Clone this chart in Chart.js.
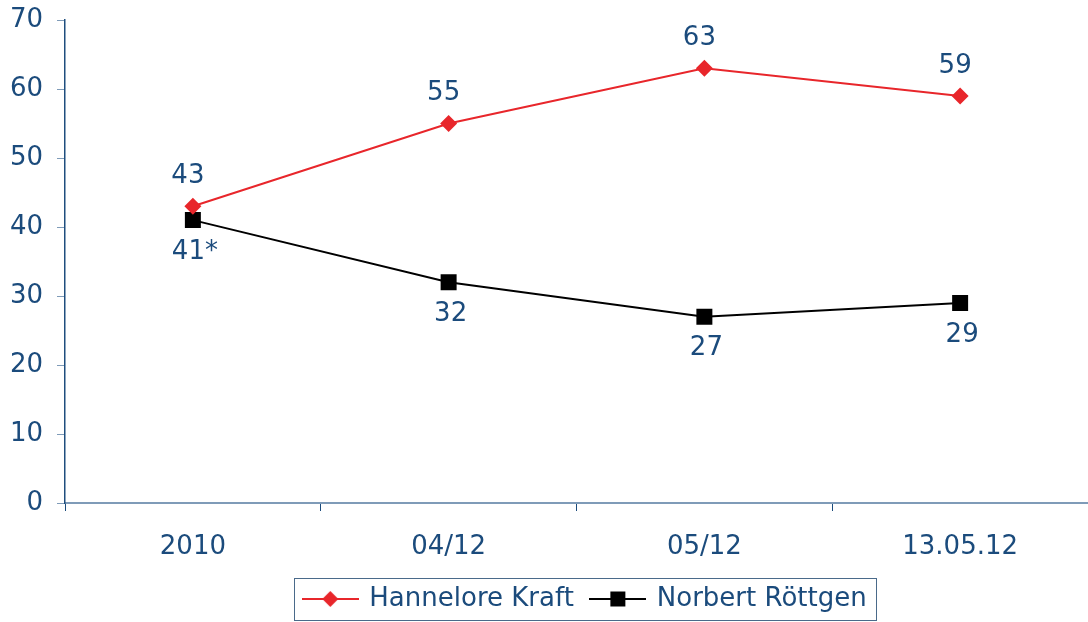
<!DOCTYPE html>
<html>
<head>
<meta charset="utf-8">
<script src="https://cdn.jsdelivr.net/npm/chart.js@4.4.4/dist/chart.umd.min.js"></script>
<style>
  html, body { margin: 0; padding: 0; background: #fff; }
  #wrap { width: 1088px; height: 622px; }
</style>
</head>
<body>
<div id="wrap"><canvas id="chart" width="1088" height="622"></canvas></div>
<script>
const categories = ['2010', '04/12', '05/12', '13.05.12'];
const kraft = [43, 55, 63, 59];
const roettgen = [41, 32, 27, 29];
const kraftLabels = ['43', '55', '63', '59'];
const roettgenLabels = ['41*', '32', '27', '29'];

const TEXT = '#1b4b7c';
const RED = '#e8262b';
const FONT = "'DejaVu Sans', Verdana, sans-serif";

function legendIcon(color, style) {
  const c = document.createElement('canvas');
  c.width = 57; c.height = 20;
  const ctx = c.getContext('2d');
  ctx.strokeStyle = color;
  ctx.lineWidth = 2;
  ctx.beginPath();
  ctx.moveTo(0, 10); ctx.lineTo(57, 10);
  ctx.stroke();
  ctx.fillStyle = color;
  ctx.beginPath();
  if (style === 'diamond') {
    ctx.moveTo(28.5, 2); ctx.lineTo(36.5, 10); ctx.lineTo(28.5, 18); ctx.lineTo(20.5, 10);
  } else {
    ctx.rect(21, 2.5, 15, 15);
  }
  ctx.fill();
  return c;
}

// value labels above / below the points
const valueLabels = {
  id: 'valueLabels',
  afterDatasetsDraw(chart) {
    const ctx = chart.ctx;
    ctx.save();
    ctx.font = '26px ' + FONT;
    ctx.fillStyle = TEXT;
    ctx.textAlign = 'center';
    ctx.textBaseline = 'middle';
    chart.getDatasetMeta(0).data.forEach((p, i) => {
      ctx.fillText(kraftLabels[i], p.x - 5, p.y - 30);
    });
    chart.getDatasetMeta(1).data.forEach((p, i) => {
      ctx.fillText(roettgenLabels[i], p.x + 2, p.y + 32);
    });
    ctx.restore();
  }
};

// nudge the legend a little to the right, like the original
const SHIFT = 9;
const legendShift = {
  id: 'legendShift',
  afterLayout(chart) {
    const lg = chart.legend;
    if (!lg) return;
    lg.left += SHIFT;
    lg.right += SHIFT;
    (lg.legendHitBoxes || []).forEach(b => { b.left += SHIFT; });
  }
};

// frame around the legend
const legendFrame = {
  id: 'legendFrame',
  afterDraw(chart) {
    const boxes = chart.legend && chart.legend.legendHitBoxes;
    if (!boxes || !boxes.length) return;
    const left = Math.min(...boxes.map(b => b.left)) - 10;
    const right = Math.max(...boxes.map(b => b.left + b.width)) + 10;
    const top = Math.min(...boxes.map(b => b.top)) - 8;
    const bottom = Math.max(...boxes.map(b => b.top + b.height)) + 8;
    const ctx = chart.ctx;
    ctx.save();
    ctx.strokeStyle = '#4a6a8a';
    ctx.lineWidth = 1;
    ctx.strokeRect(Math.round(left) + 0.5, Math.round(top) + 0.5, Math.round(right - left), Math.round(bottom - top));
    ctx.restore();
  }
};

new Chart(document.getElementById('chart'), {
  type: 'line',
  data: {
    labels: categories,
    datasets: [{
      label: 'Hannelore Kraft',
      data: kraft,
      borderColor: RED,
      backgroundColor: RED,
      borderWidth: 2,
      pointStyle: 'rectRot',
      pointRadius: 8.5,
      pointHoverRadius: 8.5,
      pointBorderWidth: 0,
      tension: 0,
    }, {
      label: 'Norbert Röttgen',
      data: roettgen,
      borderColor: '#000',
      backgroundColor: '#000',
      borderWidth: 2,
      pointStyle: 'rect',
      pointRadius: 11.3,
      pointHoverRadius: 11.3,
      pointBorderWidth: 0,
      tension: 0,
    }],
  },
  options: {
    responsive: false,
    animation: false,
    layout: { autoPadding: false, padding: { top: 20, right: 0, left: 0, bottom: 0 } },
    plugins: {
      tooltip: { enabled: false },
      legend: {
        position: 'bottom',
        fullSize: false,
        labels: {
          color: TEXT,
          font: { family: FONT, size: 26 },
          usePointStyle: true,
          pointStyleWidth: 52,
          padding: 18,
          generateLabels: () => [
            { text: 'Hannelore Kraft', pointStyle: legendIcon(RED, 'diamond'), fontColor: TEXT, lineWidth: 0, datasetIndex: 0 },
            { text: 'Norbert Röttgen', pointStyle: legendIcon('#000', 'square'), fontColor: TEXT, lineWidth: 0, datasetIndex: 1 },
          ],
        },
      },
    },
    scales: {
      x: {
        offset: true,
        afterFit(s) { s.height = 65; s.paddingLeft = 0; s.paddingRight = 0; },
        grid: { offset: true, drawOnChartArea: false, drawTicks: true, tickLength: 8, color: TEXT, lineWidth: 1 },
        border: { color: '#7f9bb8', width: 2 },
        ticks: { color: TEXT, font: { family: FONT, size: 26 }, padding: 21, maxRotation: 0 },
      },
      y: {
        min: 0,
        max: 70,
        afterFit(s) { s.width = 65; s.paddingTop = 0; s.paddingBottom = 0; },
        grid: { drawOnChartArea: false, drawTicks: true, tickLength: 8, color: '#7f9bb8', lineWidth: 1 },
        border: { color: '#1f4e7e', width: 1.5 },
        ticks: { stepSize: 10, color: TEXT, font: { family: FONT, size: 26 }, padding: 14 },
      },
    },
  },
  plugins: [valueLabels, legendShift, legendFrame],
});
</script>
</body>
</html>
